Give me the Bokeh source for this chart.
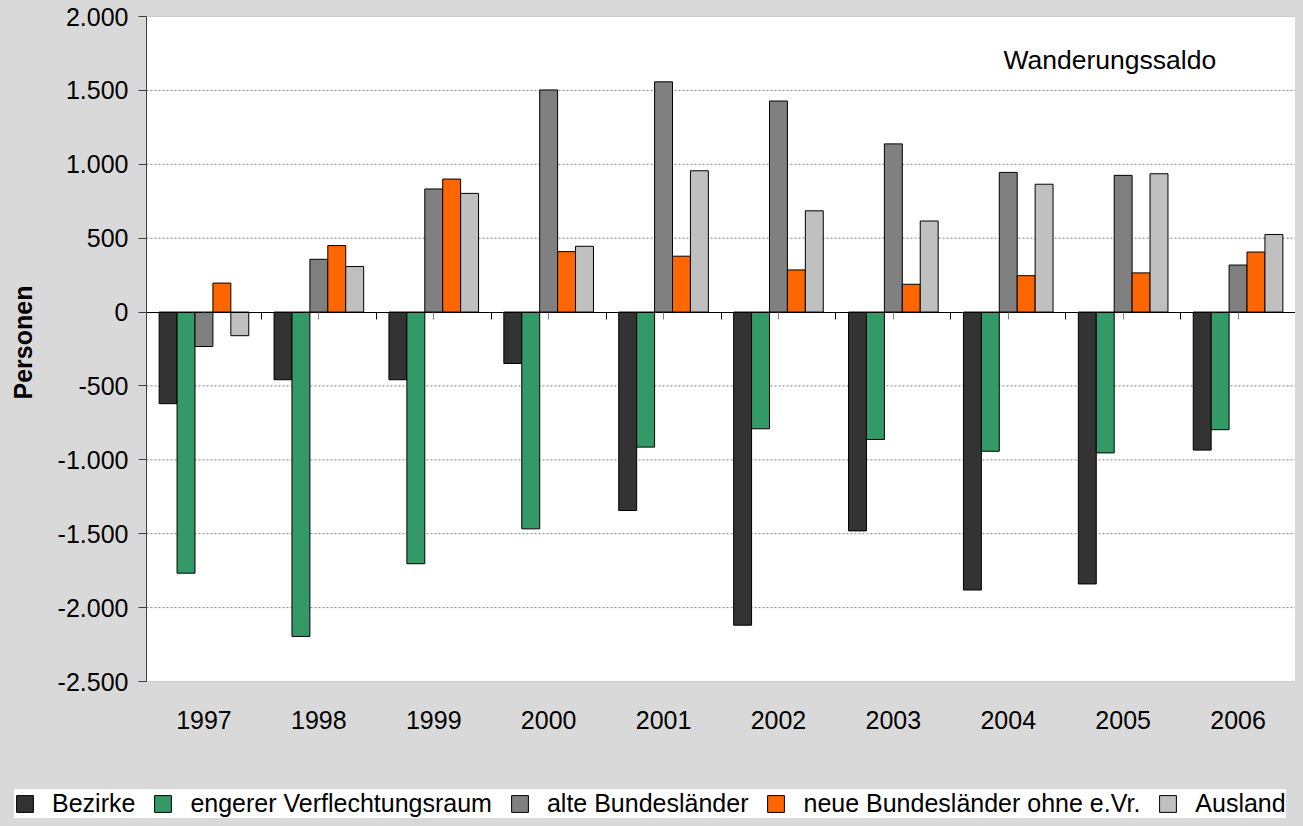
import math
import numpy as np
from bokeh.plotting import figure
from bokeh.models import (Range1d, FixedTicker, LinearAxis, Label, Legend,
                          LegendItem, ColumnDataSource, BoxAnnotation)
from bokeh.embed import file_html
from bokeh.resources import INLINE

# ---------------- data ----------------
years = ["1997", "1998", "1999", "2000", "2001", "2002", "2003", "2004", "2005", "2006"]
bezirke = [-620, -458, -458, -348, -1343, -2119, -1481, -1881, -1840, -934]
engerer = [-1767, -2195, -1703, -1467, -914, -790, -862, -942, -953, -796]
alte = [-233, 357, 833, 1503, 1558, 1428, 1138, 945, 925, 318]
neue = [196, 450, 900, 409, 378, 285, 188, 246, 265, 406]
ausland = [-160, 308, 803, 445, 956, 685, 616, 865, 936, 525]
series_names = ["Bezirke", "engerer Verflechtungsraum", "alte Bundesländer",
                "neue Bundesländer ohne e.Vr.", "Ausland"]
series_values = [bezirke, engerer, alte, neue, ausland]
colors = ["#333333", "#339966", "#808080", "#FF6600", "#C0C0C0"]
y_ticks = [-2500, -2000, -1500, -1000, -500, 0, 500, 1000, 1500, 2000]
title_text = "Wanderungssaldo"
y_label = "Personen"

# ---------------- layout (pixels) ----------------
W, H = 1295, 818
PX_LEFT, PX_RIGHT = 146, 1295      # plot area box
PX_TOP, PX_BOTTOM = 16, 681
n = len(years)
Y_MIN, Y_MAX = y_ticks[0], y_ticks[-1]
px_per_cat = (PX_RIGHT - PX_LEFT) / n
px_per_unit = (PX_BOTTOM - PX_TOP) / (Y_MAX - Y_MIN)


def xd(px):
    return (px - PX_LEFT) / px_per_cat


def yd(py):
    return Y_MAX - (py - PX_TOP) / px_per_unit


FONT = "Liberation Sans"
FS = "25px"
BG = "#d9d9d9"

p = figure(width=W, height=H, title=None,
           x_range=Range1d(xd(0), xd(W)), y_range=Range1d(yd(H), yd(0)),
           x_axis_type=None, y_axis_type=None,
           output_backend="svg", toolbar_location=None,
           min_border_left=0, min_border_right=0, min_border_top=0, min_border_bottom=0,
           background_fill_color=BG, border_fill_color=BG, outline_line_color=None)
p.xgrid.visible = False
p.ygrid.visible = False

# white plot area with grey outline
p.add_layout(BoxAnnotation(left=0, right=n, bottom=Y_MIN, top=Y_MAX,
                           fill_color="white", fill_alpha=1.0,
                           line_color="#808080", line_width=1, level="underlay"))

# dotted horizontal grid lines
grid_ys = [v for v in y_ticks[1:-1] if v != 0]
p.segment(x0=[0] * len(grid_ys), x1=[n] * len(grid_ys), y0=grid_ys, y1=grid_ys,
          line_color="#808080", line_dash="2 2", line_width=1)

# bars
centers = np.arange(n) + 0.5
bw = 0.156
renderers = []
for k, (vals, col) in enumerate(zip(series_values, colors)):
    src = ColumnDataSource(dict(x=centers + (k - 2) * bw, top=vals))
    r = p.vbar(x="x", top="top", bottom=0, width=bw, source=src,
               fill_color=col, line_color="black", line_width=1)
    renderers.append(r)

# y axis at x = 0, bounded to the plot box
ya = LinearAxis(fixed_location=0, bounds=(Y_MIN, Y_MAX),
                ticker=FixedTicker(ticks=y_ticks),
                major_label_overrides={v: f"{v:,}".replace(",", ".") for v in y_ticks},
                major_label_text_font=FONT, major_label_text_font_size=FS,
                major_label_text_color="black", major_label_standoff=10,
                major_tick_out=8, major_tick_in=0, minor_tick_line_color=None,
                axis_line_color="#404040", major_tick_line_color="#404040")
p.add_layout(ya, "left")

# category labels below the plot box
xa = LinearAxis(fixed_location=Y_MIN, bounds=(0, n),
                ticker=FixedTicker(ticks=list(centers)),
                major_label_overrides={float(c): y for c, y in zip(centers, years)},
                axis_line_color=None, major_tick_line_color=None, minor_tick_line_color=None,
                major_label_text_font=FONT, major_label_text_font_size=FS,
                major_label_text_color="black", major_label_standoff=23)
p.add_layout(xa, "below")

# zero line with category tick marks
boundaries = list(np.arange(n + 1).astype(float))
zero_axis = LinearAxis(fixed_location=0, bounds=(0, n),
                       ticker=FixedTicker(ticks=boundaries, minor_ticks=list(centers)),
                       axis_line_color="black", axis_line_width=1,
                       major_tick_out=7, major_tick_in=0,
                       minor_tick_out=7, minor_tick_in=0,
                       major_tick_line_color="black", minor_tick_line_color="#808080",
                       major_label_text_color=None, major_label_text_font_size="1px")
p.add_layout(zero_axis, "below")

# y-axis title
p.add_layout(Label(x=xd(22), y=yd(342), text=y_label, angle=math.pi / 2,
                   text_font=FONT, text_font_size=FS, text_font_style="bold",
                   text_color="black", text_align="center", text_baseline="middle"))

# in-plot title
p.add_layout(Label(x=xd(1003), y=yd(59), text=title_text, text_font=FONT,
                   text_font_size="26.5px", text_color="black",
                   text_baseline="alphabetic", text_align="left"))

# legend strip at the bottom
legend = Legend(items=[LegendItem(label=nm, renderers=[r]) for nm, r in zip(series_names, renderers)],
                orientation="horizontal", location=(14, 0),
                glyph_width=21, glyph_height=21, label_standoff=17, spacing=17,
                label_height=28, padding=0, margin=0,
                background_fill_color="white", background_fill_alpha=1.0,
                border_line_color=None,
                label_text_font=FONT, label_text_font_size=FS, label_text_color="black")
p.add_layout(legend)

html = file_html(p, INLINE)
html = html.replace("</head>", "<style>html, body { background-color: #d9d9d9; }</style></head>", 1)
open("out.html", "w", encoding="utf-8").write(html)
